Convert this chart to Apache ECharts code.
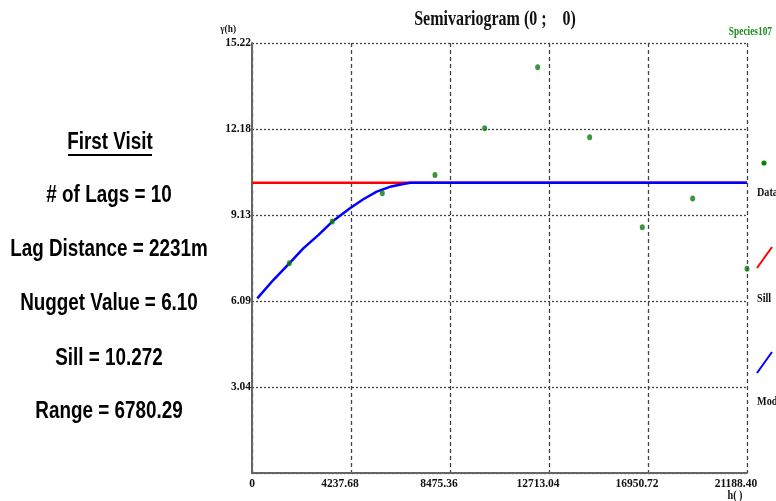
<!DOCTYPE html>
<html>
<head>
<meta charset="utf-8">
<title>Semivariogram</title>
<script src="https://cdn.jsdelivr.net/npm/echarts@6/dist/echarts.min.js"></script>
<style>
  html, body { margin: 0; padding: 0; background: #ffffff; }
  #chart { width: 776px; height: 501px; }
</style>
</head>
<body>
<div id="chart"></div>
<script>
// Experimental semivariance per lag (lag distance h, gamma)
const lagDistances = [1597, 3437, 5577, 7833, 9960, 12228, 14454, 16706, 18862, 21188.4];
const gammaValues  = [7.42, 8.90, 9.90, 10.55, 12.20, 14.36, 11.88, 8.70, 9.72, 7.23];

// Fitted model curve (h, gamma) up to the range, flat at the sill afterwards
const modelH     = [227, 912, 1596, 2196, 2838, 3437, 4194, 4764, 5337, 5906, 6476, 6780.29, 21188.4];
const modelGamma = [6.18, 6.83, 7.42, 7.95, 8.42, 8.90, 9.37, 9.69, 9.96, 10.13, 10.23, 10.272, 10.272];

// Sill line
const sillH     = [0, 21188.4];
const sillGamma = [10.272, 10.272];

// Axis scales
const xMax = 21188.4, xStep = 4237.68;
const yMax = 15.22,   yStep = 3.044;

// Summary text beside the plot
const summaryTitle = 'First Visit';
const summaryLines = [
  '# of Lags = 10',
  'Lag Distance = 2231m',
  'Nugget Value = 6.10',
  'Sill = 10.272',
  'Range = 6780.29'
];
const summaryY = [196, 250, 304, 359, 412];

const zip = (a, b) => a.map((v, i) => [v, b[i]]);

const chart = echarts.init(document.getElementById('chart'), null, { renderer: 'canvas' });

const serifFamily = '"Liberation Serif", "Times New Roman", serif';
const serifBold = (size) => 'bold ' + size + 'px ' + serifFamily;
const sansBold  = (size) => 'bold ' + size + 'px "Liberation Sans", Arial, sans-serif';

const graphics = [];

// Title
graphics.push({
  type: 'text', x: 495, y: 20, scaleX: 0.8,
  style: { text: 'Semivariogram (0 ;    0)', font: serifBold(20), fill: '#111',
           textAlign: 'center', textVerticalAlign: 'middle' }
});
// Species tag
graphics.push({
  type: 'text', x: 772, y: 32, scaleX: 0.78,
  style: { text: 'Species107', font: serifBold(12), fill: '#1a8c1a',
           textAlign: 'right', textVerticalAlign: 'middle' }
});
// Axis names
graphics.push({
  type: 'text', x: 236, y: 29, scaleX: 0.85,
  style: { text: 'γ(h)', font: serifBold(11), fill: '#111',
           textAlign: 'right', textVerticalAlign: 'middle' }
});
graphics.push({
  type: 'text', x: 735, y: 496, scaleX: 0.85,
  style: { text: 'h( )', font: serifBold(12), fill: '#111',
           textAlign: 'center', textVerticalAlign: 'middle' }
});

// Legend
graphics.push({ type: 'circle', shape: { cx: 764, cy: 163, r: 2.6 }, style: { fill: '#0b820b' } });
graphics.push({
  type: 'text', x: 757, y: 193, scaleX: 0.85,
  style: { text: 'Data', font: serifBold(12), fill: '#111', textAlign: 'left', textVerticalAlign: 'middle' }
});
graphics.push({ type: 'line', shape: { x1: 757, y1: 268, x2: 772, y2: 247 }, style: { stroke: '#ff0000', lineWidth: 2 } });
graphics.push({
  type: 'text', x: 757, y: 299, scaleX: 0.85,
  style: { text: 'Sill', font: serifBold(12), fill: '#111', textAlign: 'left', textVerticalAlign: 'middle' }
});
graphics.push({ type: 'line', shape: { x1: 757, y1: 373, x2: 772, y2: 352 }, style: { stroke: '#0000ff', lineWidth: 2 } });
graphics.push({
  type: 'text', x: 757, y: 402, scaleX: 0.85,
  style: { text: 'Model', font: serifBold(12), fill: '#111', textAlign: 'left', textVerticalAlign: 'middle' }
});

// Summary panel
graphics.push({
  type: 'text', x: 110, y: 143, scaleX: 0.82,
  style: { text: summaryTitle, font: sansBold(23), fill: '#000', textAlign: 'center', textVerticalAlign: 'middle' }
});
graphics.push({ type: 'line', shape: { x1: 68, y1: 155, x2: 152, y2: 155 }, style: { stroke: '#000', lineWidth: 2 } });
summaryLines.forEach((t, i) => {
  graphics.push({
    type: 'text', x: 109, y: summaryY[i], scaleX: 0.82,
    style: { text: t, font: sansBold(23), fill: '#000', textAlign: 'center', textVerticalAlign: 'middle' }
  });
});

const option = {
  backgroundColor: '#ffffff',
  animation: false,
  grid: { left: 252, right: 29, top: 43, bottom: 28, containLabel: false },
  xAxis: {
    type: 'value', min: 0, max: xMax, interval: xStep,
    axisLine: { show: true, onZero: false, lineStyle: { color: '#666', width: 2 } },
    axisTick: { show: false },
    axisLabel: {
      show: true, margin: 5, color: '#111',
      fontFamily: serifFamily, fontWeight: 'bold', fontSize: 11.5,
      // non-zero tick labels sit a little to the left of their grid line
      formatter: (v) => v === 0 ? '{z|0}' : '{v|' + v.toFixed(2) + '}',
      rich: {
        z: { fontFamily: serifFamily, fontWeight: 'bold', fontSize: 11.5, color: '#111' },
        v: { fontFamily: serifFamily, fontWeight: 'bold', fontSize: 11.5, color: '#111', padding: [0, 22, 0, 0] }
      }
    },
    splitLine: { show: true, lineStyle: { color: '#444', width: 1.3, type: [4, 3] } }
  },
  yAxis: {
    type: 'value', min: 0, max: yMax, interval: yStep,
    axisLine: { show: true, onZero: false, lineStyle: { color: '#666', width: 2 } },
    axisTick: { show: false },
    axisLabel: {
      show: true, margin: 1, color: '#111',
      fontFamily: serifFamily, fontWeight: 'bold', fontSize: 11.5,
      formatter: (v) => v === 0 ? '' : v.toFixed(2)
    },
    splitLine: { show: true, lineStyle: { color: '#444', width: 1.3, type: [2, 2] } }
  },
  series: [
    {
      name: 'Sill', type: 'line', data: zip(sillH, sillGamma),
      showSymbol: false, symbol: 'none',
      lineStyle: { color: '#ff0000', width: 2.5 }, z: 2
    },
    {
      name: 'Model', type: 'line', data: zip(modelH, modelGamma),
      showSymbol: false, symbol: 'none', smooth: false,
      lineStyle: { color: '#0000ff', width: 2.5 }, z: 3
    },
    {
      name: 'Data', type: 'scatter', data: zip(lagDistances, gammaValues),
      symbol: 'circle', symbolSize: [5, 6], clip: false,
      itemStyle: { color: '#0b7d0b' }, z: 4
    }
  ],
  graphic: graphics
};

chart.setOption(option);
</script>
</body>
</html>
